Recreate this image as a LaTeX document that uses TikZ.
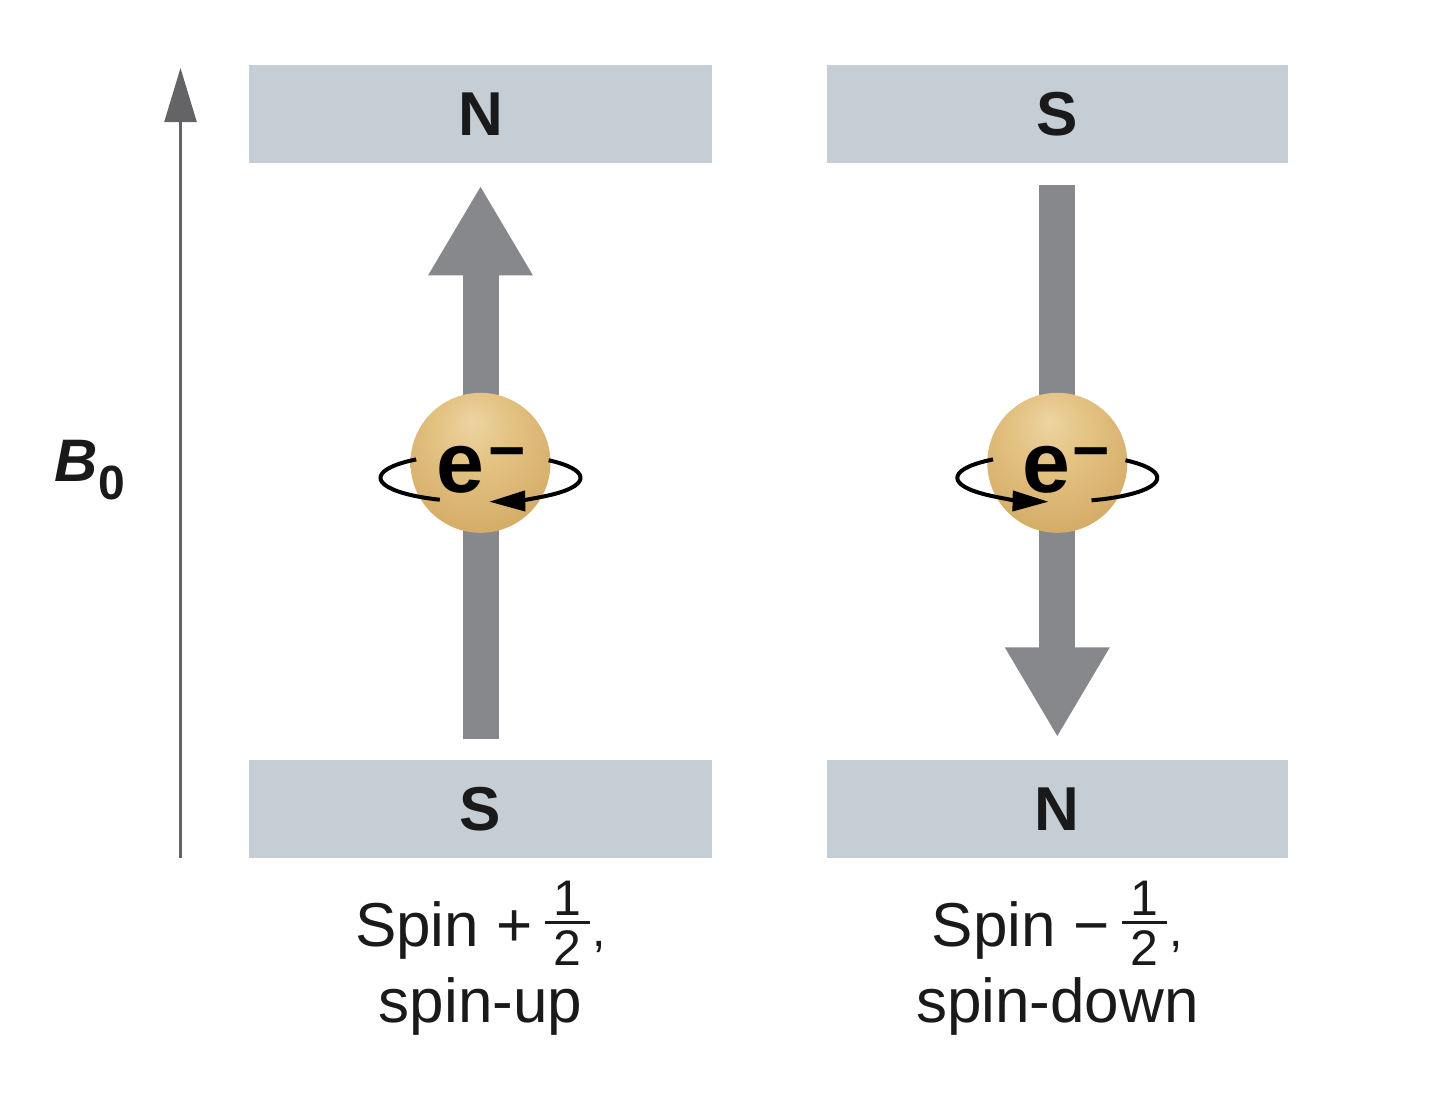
\documentclass[tikz,border=0pt]{standalone}
\usepackage{amsmath}
\usepackage{fontspec}
\setmainfont{Liberation Sans}
\usetikzlibrary{positioning,arrows.meta}
\definecolor{colormagnet}{RGB}{197,206,213}
\definecolor{colorspin}  {RGB}{135,136,140}
\definecolor{colorfield} {RGB}{100,100,102}
\definecolor{colortext}  {RGB}{26,26,26}
\pgfdeclareradialshading{sphereshade}{\pgfpoint{-3bp}{15bp}}{
    rgb(0bp)=(0.93,0.83,0.63);
    rgb(14bp)=(0.89,0.76,0.51);
    rgb(34bp)=(0.83,0.67,0.40);
    rgb(50bp)=(0.77,0.61,0.33);
    rgb(70bp)=(0.74,0.57,0.30)}
\newcommand{\halfspin}{\raisebox{6pt}{$\genfrac{}{}{1.5pt}{}{\makebox[22.5pt]{\fontsize{25}{25}\selectfont 1}}{\makebox[22.5pt]{\rule{0pt}{19.5pt}\fontsize{25}{25}\selectfont 2}}$}}

\begin{document}
\begin{tikzpicture}[
    x=0.5pt, y=-0.5pt,
    node distance = 10pt,
    magnet/.style={fill=colormagnet,text=colortext,font={\fontsize{31}{31}\selectfont\bfseries},minimum width=231.5pt,minimum height=49pt,inner sep=0pt},
    sphere/.style={circle,shading=sphereshade,minimum size=70pt,inner sep=0pt},
    charge/.style={text=black,anchor=base,inner sep=0pt,font={\fontsize{43}{43}\selectfont\bfseries}},
    caption/.style={text=colortext,align=center,inner sep=0pt,font={\fontsize{31}{38}\selectfont}},
    spin/.style={line width=18pt,draw=colorspin,-{Triangle[length=45pt,width=49pt]}},
    orbit/.style={line width=2pt,draw=black},
    field/.style={line width=1.2pt,draw=colorfield,-{Triangle[length=27pt,width=16pt]}},
]
    \useasboundingbox (0,0) rectangle (1440,1094);

    % Magnets
    \node[magnet] (topUp) at (480.5,114) {N};
    \node[magnet, minimum width=230.5pt, right=57pt of topUp] (topDown) {S};
    \node[magnet, below=298pt of topUp] (bottomUp) {S};
    \node[magnet, minimum width=230.5pt, below=298pt of topDown] (bottomDown) {N};

    % Field
    \coordinate (fieldStart) at (180.5,858);
    \coordinate (fieldEnd) at (180.5,68);
    \draw[field] (fieldStart) -- (fieldEnd);
    \node[inner sep=0pt,text=colortext,font={\fontsize{30}{30}\selectfont\bfseries}] (fieldLabel) at (90,470) {\textit{B}\raisebox{-9pt}{\fontsize{24}{24}\selectfont 0}};

    % Spin arrows
    \draw[spin,shorten <=10pt,shorten >=11pt] (bottomUp.north) -- (topUp.south);
    \draw[spin,shorten <=11pt,shorten >=11pt] (topDown.south) -- (bottomDown.north);

    % Electrons
    \node[sphere, below=114.5pt of topUp] (sphereUp) {};
    \node[sphere, below=114.5pt of topDown] (sphereDown) {};
    \node[charge] (chargeUp) at ([xshift=0.5pt,yshift=-15pt]sphereUp.center) {e\kern2pt\raisebox{10pt}{\fontsize{32}{32}\selectfont −}};
    \node[charge] (chargeDown) at ([xshift=4.5pt,yshift=-15pt]sphereDown.center) {e\kern1pt\raisebox{10pt}{\fontsize{32}{32}\selectfont −}};

    % Orbits
    \coordinate (orbitUp) at ([yshift=-7.5pt]sphereUp.center);
    \coordinate (orbitDown) at ([yshift=-7.5pt]sphereDown.center);
    \draw[orbit] ([shift={(130:50pt and 12pt)}]orbitUp) arc[start angle=130,end angle=246,x radius=50pt,y radius=12pt];
    \draw[orbit,-{Triangle[length=18pt,width=10pt]}] ([shift={(47:50pt and 12pt)}]orbitUp) arc[start angle=47,end angle=-85,x radius=50pt,y radius=12pt];
    \draw[orbit,-{Triangle[length=18pt,width=10pt]}] ([shift={(130:50pt and 12pt)}]orbitDown) arc[start angle=130,end angle=265,x radius=50pt,y radius=12pt];
    \draw[orbit] ([shift={(47:50pt and 12pt)}]orbitDown) arc[start angle=47,end angle=-70,x radius=50pt,y radius=12pt];

    % Captions
    \node[caption, below=11pt of bottomUp] (captionUp) {Spin +\,\halfspin{\fontsize{24}{24}\selectfont,}\\spin-up};
    \node[caption, below=11pt of bottomDown] (captionDown) {Spin −\,\halfspin{\fontsize{24}{24}\selectfont,}\\spin-down};

\end{tikzpicture}
\end{document}
